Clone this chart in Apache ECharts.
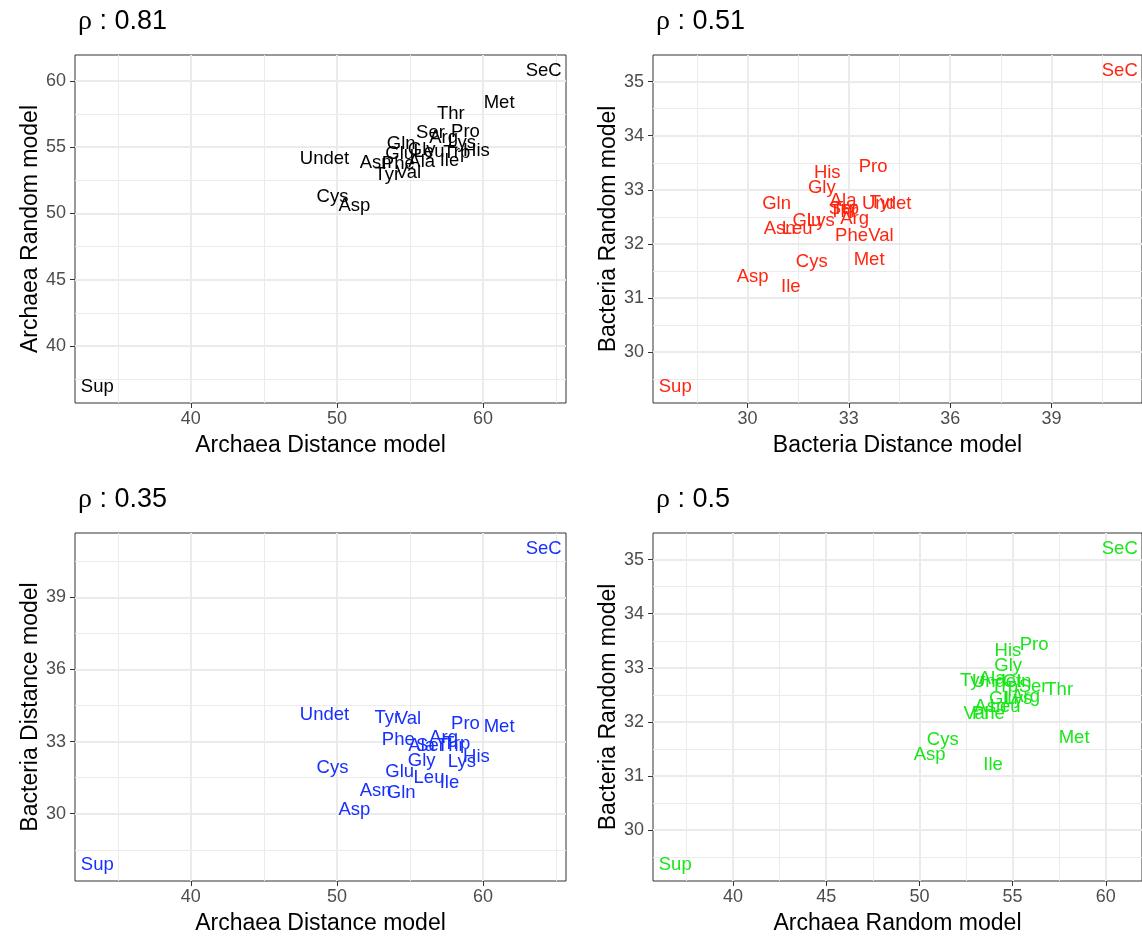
<!DOCTYPE html>
<html>
<head>
<meta charset="utf-8">
<script src="https://cdn.jsdelivr.net/npm/echarts@6/dist/echarts.min.js"></script>
<style>
  html, body { margin: 0; padding: 0; background: #fff; }
  #main { width: 1142px; height: 941px; }
</style>
</head>
<body>
<div id="main"></div>
<script>
// amino acid labels and the four model scores
var aminoAcids = ['Ala','Arg','Asn','Asp','Cys','Gln','Glu','Gly','His','Ile','Leu','Lys','Met','Phe','Pro','Ser','Thr','Trp','Tyr','Val','SeC','Sup','Undet'];
var archaeaDistance = [55.8,57.3,52.65,51.2,49.7,54.4,54.3,55.8,59.55,57.7,56.3,58.55,61.1,54.2,58.8,56.4,57.8,58.2,53.45,54.9,64.15,33.6,49.15];
var archaeaRandom   = [53.9,55.7,53.8,50.55,51.25,55.24,54.5,54.76,54.75,53.95,54.6,55.3,58.3,53.7,56.15,56.1,57.5,54.56,52.87,53.05,60.75,36.9,54.14];
var bacteriaDistance = [32.83,33.17,30.95,30.15,31.9,30.86,31.76,32.2,32.36,31.28,31.47,32.17,33.6,33.08,33.72,32.83,32.83,32.9,34.0,33.95,41.02,27.86,34.12];
var bacteriaRandom   = [32.8,32.46,32.28,31.39,31.67,32.74,32.43,33.04,33.32,31.2,32.28,32.43,31.7,32.14,33.42,32.65,32.6,32.65,32.75,32.14,35.2,29.35,32.74];

// correlation shown above each panel
var rhoValues = ['0.81', '0.51', '0.35', '0.5'];

// axis breaks (major / minor)
var ticksAD = [40, 50, 60],            minorAD = [35, 45, 55, 65];
var ticksAR = [40, 45, 50, 55, 60],    minorAR = [37.5, 42.5, 47.5, 52.5, 57.5];
var ticksBD = [30, 33, 36, 39],        minorBD = [28.5, 31.5, 34.5, 37.5, 40.5];
var ticksBR = [30, 31, 32, 33, 34, 35], minorBR = [29.5, 30.5, 31.5, 32.5, 33.5, 34.5];

var FONT = "'Liberation Sans', Arial, Helvetica, sans-serif";

// ggplot default: data range expanded by 5% each side
function expand(arr) {
    var lo = Math.min.apply(null, arr), hi = Math.max.apply(null, arr);
    var d = (hi - lo) * 0.05;
    return [lo - d, hi + d];
}

var panels = [
    { x: archaeaDistance, y: archaeaRandom, xName: 'Archaea Distance model', yName: 'Archaea Random model',
      xt: ticksAD, xm: minorAD, yt: ticksAR, ym: minorAR, color: '#000000', left: 75, top: 55, width: 491 },
    { x: bacteriaDistance, y: bacteriaRandom, xName: 'Bacteria Distance model', yName: 'Bacteria Random model',
      xt: ticksBD, xm: minorBD, yt: ticksBR, ym: minorBR, color: '#ff2610', left: 653, top: 55, width: 490 },
    { x: archaeaDistance, y: bacteriaDistance, xName: 'Archaea Distance model', yName: 'Bacteria Distance model',
      xt: ticksAD, xm: minorAD, yt: ticksBD, ym: minorBD, color: '#1630ff', left: 75, top: 533, width: 491 },
    { x: archaeaRandom, y: bacteriaRandom, xName: 'Archaea Random model', yName: 'Bacteria Random model',
      xt: ticksAR, xm: minorAR, yt: ticksBR, ym: minorBR, color: '#19e619', left: 653, top: 533, width: 490 }
];

var grids = [], xAxes = [], yAxes = [], series = [], titles = [];

panels.forEach(function (p, i) {
    grids.push({ left: p.left, top: p.top, width: p.width, height: 348, show: true,
                 borderColor: '#333333', borderWidth: 1, backgroundColor: 'transparent' });

    titles.push({
        text: '{r|ρ} : ' + rhoValues[i], left: p.left - 2, top: p.top - 52,
        textStyle: { fontSize: 27, fontWeight: 'normal', color: '#000', fontFamily: FONT,
                     rich: { r: { fontSize: 28, fontFamily: "'Liberation Serif', 'DejaVu Serif', serif", color: '#000' } } }
    });

    var xr = expand(p.x), yr = expand(p.y);
    var axisCommon = {
        type: 'value', gridIndex: i, nameLocation: 'middle',
        nameTextStyle: { fontSize: 23, color: '#000', fontFamily: FONT },
        axisLine: { show: false },
        splitLine: { show: false },
        axisTick: { show: true, length: 5, lineStyle: { color: '#333333', width: 1 } },
        axisLabel: { fontSize: 18, color: '#4d4d4d', fontFamily: FONT }
    };
    xAxes.push(echarts.util.merge({
        min: xr[0], max: xr[1], name: p.xName, nameGap: 31,
        axisTick: { customValues: p.xt }, axisLabel: { customValues: p.xt, margin: 7 }
    }, axisCommon));
    yAxes.push(echarts.util.merge({
        min: yr[0], max: yr[1], name: p.yName, nameGap: 33,
        axisTick: { customValues: p.yt }, axisLabel: { customValues: p.yt, margin: 9 }
    }, axisCommon));

    // panel grid lines, kept underneath the labels
    var lines = [];
    p.xm.forEach(function (v) { lines.push({ xAxis: v, lineStyle: { width: 1 } }); });
    p.ym.forEach(function (v) { lines.push({ yAxis: v, lineStyle: { width: 1 } }); });
    p.xt.forEach(function (v) { lines.push({ xAxis: v, lineStyle: { width: 2 } }); });
    p.yt.forEach(function (v) { lines.push({ yAxis: v, lineStyle: { width: 2 } }); });
    series.push({
        type: 'scatter', xAxisIndex: i, yAxisIndex: i, data: [], silent: true, z: 0,
        markLine: { z: 0, symbol: ['none', 'none'], silent: true, animation: false,
                    label: { show: false }, lineStyle: { color: '#ebebeb', type: 'solid' }, data: lines }
    });

    // text labels (scatter defaults to 0.8 opacity, which would fade the text)
    series.push({
        type: 'scatter', xAxisIndex: i, yAxisIndex: i, silent: true, z: 10, animation: false,
        symbolSize: 1, itemStyle: { color: 'rgba(0,0,0,0)', opacity: 1 },
        label: { show: true, position: 'inside', color: p.color, fontSize: 18.5, fontFamily: FONT,
                 textBorderWidth: 0, formatter: function (d) { return d.value[2]; } },
        data: aminoAcids.map(function (n, k) { return [p.x[k], p.y[k], n]; })
    });
});

var myChart = echarts.init(document.getElementById('main'), null, { renderer: 'canvas' });
myChart.setOption({
    backgroundColor: '#ffffff',
    animation: false,
    title: titles,
    grid: grids,
    xAxis: xAxes,
    yAxis: yAxes,
    series: series
});
</script>
</body>
</html>
